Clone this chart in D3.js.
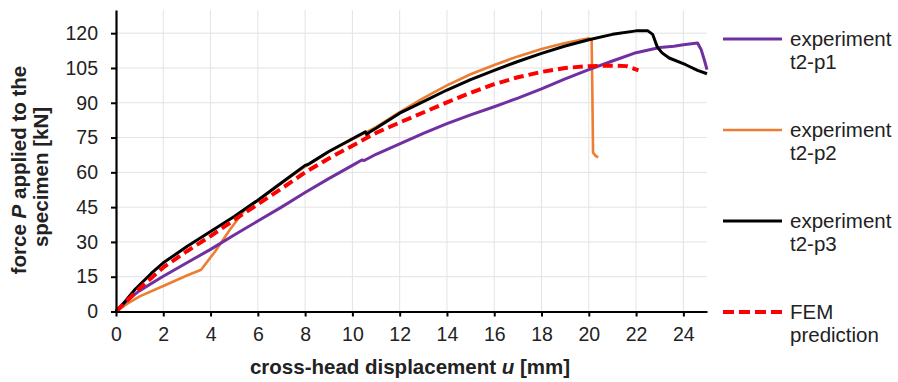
<!DOCTYPE html>
<html>
<head>
<meta charset="utf-8">
<script src="https://cdn.jsdelivr.net/npm/d3@7"></script>
<style>
  body { margin: 0; background: #fff; }
  svg { display: block; font-family: "Liberation Sans", Arial, sans-serif; }
</style>
</head>
<body>
<svg width="898" height="382"></svg>
<script>
// displacement u [mm] and force P [kN]
const u1 = [0, 0.5, 1, 2, 3, 4, 5, 6, 7, 8, 9, 10, 10.4, 10.5, 11, 12, 13, 14, 15, 16, 17, 18, 19, 20, 21, 22, 23, 23.6, 24, 24.6, 24.75, 24.9, 25]
const p1 = [0, 5, 9, 15.2, 21, 26.8, 33, 39, 45, 51.3, 57.3, 63, 65.3, 65.1, 67.8, 72.3, 76.8, 81, 84.8, 88.3, 92, 96, 100.3, 104.3, 108, 111.6, 113.8, 114.4, 115, 115.8, 113, 108, 104.3]

const u2 = [0, 0.5, 1, 2, 3, 3.6, 4.2, 4.8, 5.5, 6, 7, 8, 9, 10, 11, 12, 13, 14, 15, 16, 17, 18, 19, 20, 20.12, 20.15, 20.18, 20.3, 20.4]
const p2 = [0, 3.5, 6.5, 11, 15.5, 18, 26, 35, 44.5, 47.8, 55.3, 62.5, 68.8, 74.2, 79.5, 86, 92, 97.5, 102.3, 106.3, 110, 113.2, 115.8, 117.8, 117, 95, 68.5, 67, 66.5]

const u3 = [0, 0.4, 0.8, 1.5, 2, 3, 4, 5, 6, 7, 8, 8.12, 8.25, 9, 10, 10.55, 10.62, 10.7, 11, 12, 13, 14, 15, 16, 17, 18, 19, 20, 21, 22, 22.5, 22.7, 22.9, 23.1, 23.4, 24.1, 24.6, 25]
const p3 = [0, 4.5, 9.5, 16.5, 21, 28, 34.5, 41, 48, 55.5, 63, 63.4, 64.2, 69, 74.5, 77.5, 76, 77.2, 79, 85.5, 90.5, 95.5, 100, 104, 107.8, 111.3, 114.5, 117.2, 119.5, 121, 121, 119.5, 114, 111.5, 109.3, 106.4, 104, 102.5]

const uF = [0, 1, 2, 3, 4, 5, 6, 7, 8, 9, 10, 11, 12, 13, 14, 15, 16, 17, 18, 19, 20, 21, 21.6, 22.1]
const pF = [0, 10, 19, 26, 32.5, 39.5, 46.2, 53, 60, 66, 71.5, 77, 81.5, 85.8, 90.2, 94.3, 98, 101, 103.3, 105, 105.8, 106, 105.8, 104]

const seriesNames = [["experiment", "t2-p1"], ["experiment", "t2-p2"], ["experiment", "t2-p3"], ["FEM", "prediction"]]
const xTicks = [0, 2, 4, 6, 8, 10, 12, 14, 16, 18, 20, 22, 24]
const yTicks = [0, 15, 30, 45, 60, 75, 90, 105, 120]

const series = [
  { name: seriesNames[0], u: u1, p: p1, color: "#7030A0", width: 3, dash: null },
  { name: seriesNames[1], u: u2, p: p2, color: "#ED7D31", width: 2.6, dash: null },
  { name: seriesNames[2], u: u3, p: p3, color: "#000000", width: 3, dash: null },
  { name: seriesNames[3], u: uF, p: pF, color: "#FF0000", width: 4, dash: "10,5" }
]

let margin = { top: 10, left: 116 },
    w = 591,
    h = 301.5

let svg = d3.select("svg")
let g = svg.append("g").attr("transform", `translate(${margin.left}, ${margin.top})`)

let x = d3.scaleLinear().domain([0, 25]).range([0, w])
let y = d3.scaleLinear().domain([0, 130]).range([h, 0])

// grid
g.append("g")
  .selectAll("line")
  .data(xTicks.filter(d => d > 0))
  .join("line")
    .attr("x1", d => x(d)).attr("x2", d => x(d))
    .attr("y1", 0).attr("y2", h)
    .attr("stroke", "#e3e3e3").attr("stroke-width", 1)

g.append("g")
  .selectAll("line")
  .data(yTicks.filter(d => d > 0))
  .join("line")
    .attr("x1", 0).attr("x2", w)
    .attr("y1", d => y(d)).attr("y2", d => y(d))
    .attr("stroke", "#e3e3e3").attr("stroke-width", 1)

// curves
let line = d3.line()
  .x(d => x(d[0]))
  .y(d => y(d[1]))

// draw order: orange, purple, black, red
;[1, 0, 2, 3].forEach(i => {
  let s = series[i]
  g.append("path")
    .datum(s.u.map((v, k) => [v, s.p[k]]))
    .attr("fill", "none")
    .attr("stroke", s.color)
    .attr("stroke-width", s.width)
    .attr("stroke-linejoin", "round")
    .attr("stroke-dasharray", s.dash)
    .attr("d", line)
})

// axes
let xAxis = g.append("g")
  .attr("transform", `translate(0, ${h})`)
  .call(d3.axisBottom(x).tickValues(xTicks).tickSize(5).tickPadding(11).tickSizeOuter(0))
let yAxis = g.append("g")
  .call(d3.axisLeft(y).tickValues(yTicks).tickSize(5).tickPadding(13).tickSizeOuter(0))

;[xAxis, yAxis].forEach(a => {
  a.select(".domain").attr("stroke", "#000").attr("stroke-width", 2.2)
  a.selectAll(".tick line").attr("stroke", "#000").attr("stroke-width", 2)
  a.selectAll(".tick text")
    .attr("font-family", "Liberation Sans, Arial, sans-serif")
    .attr("font-size", 19.5)
    .attr("fill", "#222")
})

// axis titles
let xt = svg.append("text")
  .attr("x", 410).attr("y", 374)
  .attr("text-anchor", "middle")
  .attr("font-size", 20.5).attr("font-weight", "bold").attr("fill", "#222")
xt.append("tspan").text("cross-head displacement ")
xt.append("tspan").attr("font-style", "italic").text("u")
xt.append("tspan").text(" [mm]")

let yt1 = svg.append("text")
  .attr("transform", "translate(26, 170) rotate(-90)")
  .attr("text-anchor", "middle")
  .attr("font-size", 20.5).attr("font-weight", "bold").attr("fill", "#222")
yt1.append("tspan").text("force ")
yt1.append("tspan").attr("font-style", "italic").text("P")
yt1.append("tspan").text(" applied to the")

svg.append("text")
  .attr("transform", "translate(48, 177) rotate(-90)")
  .attr("text-anchor", "middle")
  .attr("font-size", 20.5).attr("font-weight", "bold").attr("fill", "#222")
  .text("specimen [kN]")

// legend
let legend = svg.append("g")
  .selectAll("g")
  .data(series)
  .join("g")
    .attr("transform", (d, i) => `translate(723, ${39 + i * 91})`)

legend.append("line")
  .attr("x1", 0).attr("x2", 59)
  .attr("stroke", d => d.color)
  .attr("stroke-width", d => d.width)
  .attr("stroke-dasharray", d => d.dash ? "11,5" : null)

legend.each(function(d) {
  let t = d3.select(this).append("text")
    .attr("x", 67).attr("y", 7)
    .attr("font-size", 20.5).attr("fill", "#222")
  d.name.forEach((s, k) => {
    t.append("tspan").attr("x", 67).attr("dy", k ? 23 : 0).text(s)
  })
})
</script>
</body>
</html>
